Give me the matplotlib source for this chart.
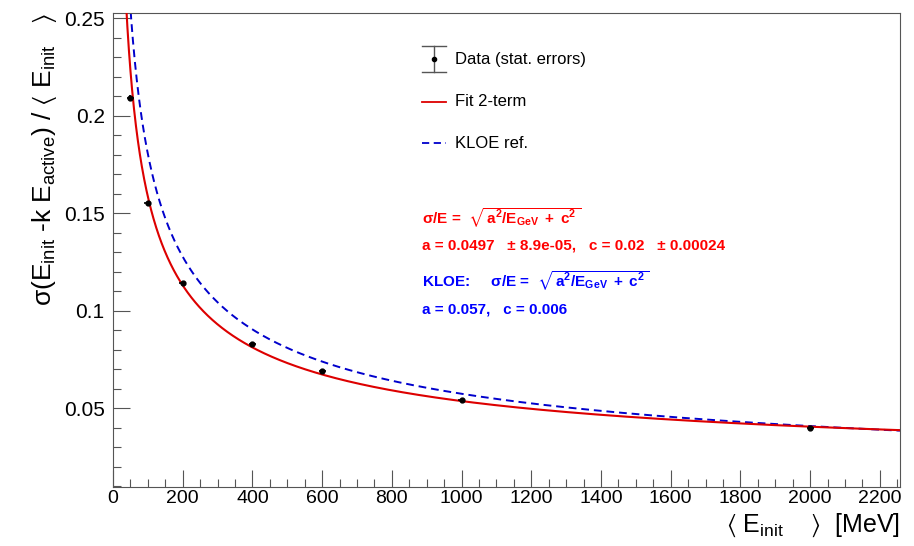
import numpy as np
import matplotlib
matplotlib.use("Agg")
import matplotlib.pyplot as plt
from matplotlib.lines import Line2D
from matplotlib.ticker import MultipleLocator

plt.rcParams["font.family"] = ["Liberation Sans", "DejaVu Sans"]
plt.rcParams["mathtext.fontset"] = "custom"
plt.rcParams["mathtext.rm"] = "Liberation Sans"
plt.rcParams["mathtext.it"] = "Liberation Sans"
plt.rcParams["mathtext.bf"] = "Liberation Sans:bold"
plt.rcParams["mathtext.sf"] = "Liberation Sans"
plt.rcParams["mathtext.fallback"] = "stixsans"

# Measured resolution points (energy in MeV)
energy_mev = [50, 100, 200, 400, 600, 1000, 2000]
resolution = [0.209, 0.155, 0.114, 0.083, 0.069, 0.054, 0.040]
energy_err = [10, 10, 10, 10, 10, 10, 10]
resolution_err = [0.0015, 0.0013, 0.0012, 0.0011, 0.0010, 0.0010, 0.0010]

# Two-term fit and KLOE reference parameters
fit_a, fit_a_err = 0.0497, 8.9e-05
fit_c, fit_c_err = 0.02, 0.00024
kloe_a, kloe_c = 0.057, 0.006

x_ticks = [0, 200, 400, 600, 800, 1000, 1200, 1400, 1600, 1800, 2000, 2200]
y_ticks = [0.05, 0.1, 0.15, 0.2, 0.25]
y_tick_labels = ["0.05", "0.1", "0.15", "0.2", "0.25"]


def two_term(e_mev, a, c):
    e_gev = np.asarray(e_mev) / 1000.0
    return np.sqrt(a ** 2 / e_gev + c ** 2)


fig = plt.figure(figsize=(9.14, 5.46), dpi=100)
W, H = 914.0, 546.0
ax = fig.add_axes([113 / W, 1 - 487 / H, (900 - 113) / W, (487 - 13) / H])

xmin, xmax = 0, 2258
ymin, ymax = 0.0095, 0.2526
ax.set_xlim(xmin, xmax)
ax.set_ylim(ymin, ymax)

e_curve = np.linspace(20, xmax, 2000)
ax.plot(e_curve, two_term(e_curve, fit_a, fit_c), color="#dd0000", lw=1.5, zorder=3)
ax.plot(e_curve, two_term(e_curve, kloe_a, kloe_c), color="#0000cc", lw=1.4,
        ls=(0, (4, 2.5)), zorder=2)
ax.errorbar(energy_mev, resolution, xerr=energy_err, yerr=resolution_err,
            fmt="o", ms=3.5, color="black", ecolor="black", elinewidth=1.2,
            capsize=0, zorder=4)

# ROOT-like axes: ticks inside, only left/bottom
ax.set_xticks(x_ticks)
ax.set_yticks(y_ticks)
ax.set_yticklabels(y_tick_labels)
ax.xaxis.set_minor_locator(MultipleLocator(50))
ax.yaxis.set_minor_locator(MultipleLocator(0.01))
ax.tick_params(axis="both", which="major", direction="in", length=12, width=0.8,
               colors="#555555", labelcolor="black", top=False, right=False)
ax.tick_params(axis="both", which="minor", direction="in", length=6, width=0.8,
               colors="#555555", top=False, right=False)
ax.tick_params(axis="x", labelsize=14, pad=2)
ax.tick_params(axis="y", labelsize=15, pad=6)
for sp in ax.spines.values():
    sp.set_color("#555555")
    sp.set_linewidth(0.8)

ax.set_ylabel(r"$\sigma(E_{init}$ -k $E_{active})\ /\ \langle\ E_{init}\ \ \ \rangle$",
              fontsize=19, loc="top")
ax.set_xlabel(r"$\langle\ E_{init}\ \ \ \ \rangle$  [MeV]", fontsize=18, loc="right")
ax.yaxis.set_label_coords(-0.068, 1.0)
ax.xaxis.set_label_coords(1.0, -0.052)


def fx(px):
    return px / W


def fy(py):
    return 1 - py / H


# Legend drawn in figure pixel coordinates
tr = fig.transFigure
fig.add_artist(Line2D([fx(434), fx(434)], [fy(46), fy(72)], color="#555555", lw=1.0, transform=tr))
fig.add_artist(Line2D([fx(422), fx(446)], [fy(46), fy(46)], color="#555555", lw=1.0, transform=tr))
fig.add_artist(Line2D([fx(422), fx(446)], [fy(72), fy(72)], color="#555555", lw=1.0, transform=tr))
fig.add_artist(Line2D([fx(434)], [fy(59)], marker="o", ms=3, color="black", transform=tr))
fig.add_artist(Line2D([fx(422), fx(446)], [fy(102), fy(102)], color="#dd0000", lw=1.3, transform=tr))
fig.add_artist(Line2D([fx(422), fx(446)], [fy(143), fy(143)], color="#0000cc", lw=1.3,
                      ls=(0, (4, 2.5)), transform=tr))
fig.text(fx(455), fy(59), "Data (stat. errors)", fontsize=12, va="center", ha="left")
fig.text(fx(455), fy(102), "Fit 2-term", fontsize=12, va="center", ha="left")
fig.text(fx(455), fy(143), "KLOE ref.", fontsize=12, va="center", ha="left")

red = "#ff0000"
blue = "#0000ff"
formula = r"$\mathbf{\sqrt{\,a^{2}/E_{GeV}\ +\ c^{2}\,}}$"
fig.text(fx(422), fy(218), r"$\mathbf{\sigma}$/E =  " + formula,
         fontsize=11, fontweight="bold", color=red, va="center", ha="left")
fig.text(fx(422), fy(246),
         f"a = {fit_a}   \u00b1 {fit_a_err:.2g},   c = {fit_c}   \u00b1 {fit_c_err:g}",
         fontsize=11, fontweight="bold", color=red, va="center", ha="left")
fig.text(fx(422), fy(281), r"KLOE:     $\mathbf{\sigma}$/E =  " + formula,
         fontsize=11, fontweight="bold", color=blue, va="center", ha="left")
fig.text(fx(422), fy(309), f"a = {kloe_a},   c = {kloe_c}",
         fontsize=11, fontweight="bold", color=blue, va="center", ha="left")

fig.savefig("out.png", dpi=100)
